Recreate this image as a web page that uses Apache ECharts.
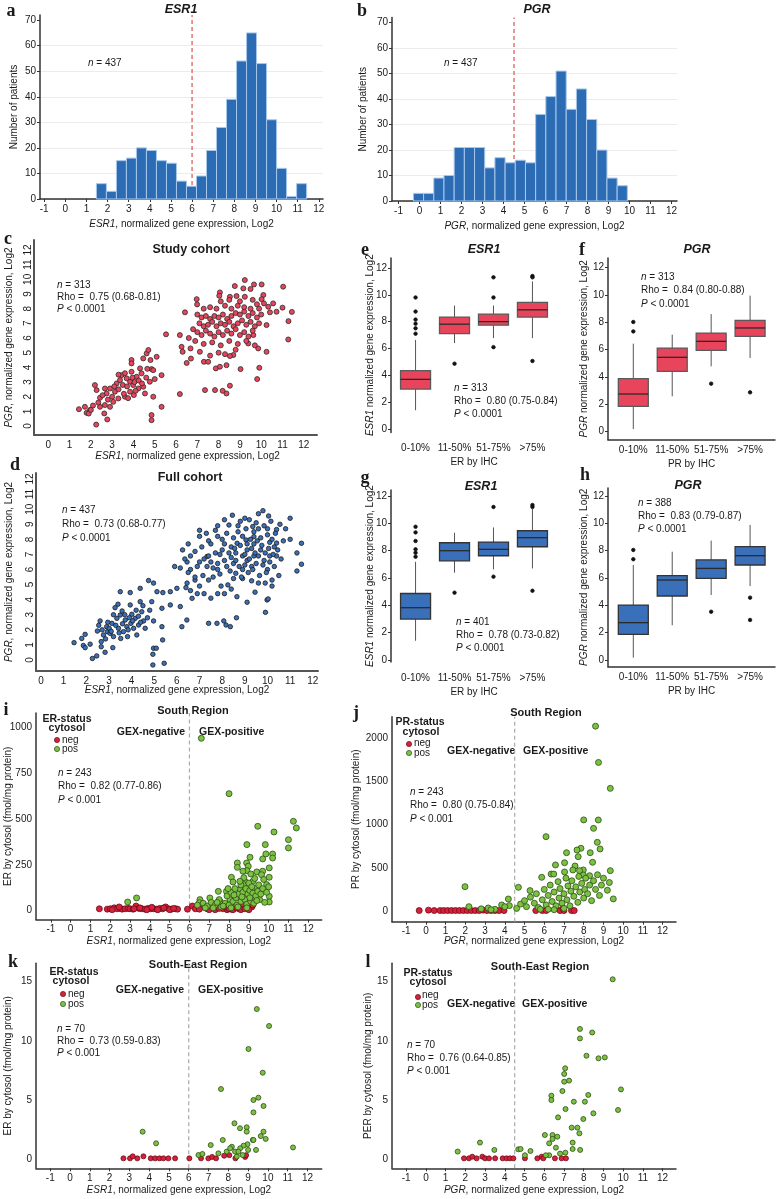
<!DOCTYPE html>
<html><head><meta charset="utf-8">
<script src="https://cdn.jsdelivr.net/npm/echarts@6/dist/echarts.min.js"></script>
<style>html,body{margin:0;padding:0;background:#fff}#c{width:777px;height:1199px}</style>
</head><body><div id="c"></div><script>
// ---------------- DATA ----------------
const xTicksFull = [-1,0,1,2,3,4,5,6,7,8,9,10,11,12];
const xTicks0 = [0,1,2,3,4,5,6,7,8,9,10,11,12];
const histYTicks = [0,10,20,30,40,50,60,70];
const scatterYTicks = [0,1,2,3,4,5,6,7,8,9,10,11,12];
const boxYTicks = [0,2,4,6,8,10,12];
const erCytTicks = [0,250,500,750,1000];
const prCytTicks = [0,500,1000,1500,2000];
const seTicks = [0,5,10,15];
const ihcCategories = ['0-10%','11-50%','51-75%','>75%'];
const esr1Cut = 6, pgrCut = 4.5;

const esr1HistStart = 1.47, esr1HistWidth = 0.474;
const esr1HistCounts = [6,3,15,16,20,19,15,14,7,5,9,19,28,39,54,65,53,31,12,1,6];
const pgrHistStart = -0.29, pgrHistWidth = 0.485;
const pgrHistCounts = [3,3,9,10,21,21,21,13,17,15,16,15,34,41,51,36,44,32,20,9,6];

const studyScatter = [
[11.03,9.5],[11.0,8.07],[11.44,7.78],[11.28,7.15],[11.27,5.9],[9.23,9.95],[8.76,9.54],[9.66,9.65],[10.02,9.65],[9.5,9.34],[9.16,9.38],[8.06,9.11],[8.03,8.88],[8.53,8.81],[8.84,8.86],[9.23,8.81],[10.1,8.93],[10.02,8.65],[10.13,8.36],[6.42,7.75],[6.97,8.65],[6.99,8.29],[6.18,6.2],[5.53,6.25],[6.26,5.4],[6.31,5.06],[6.68,5.29],[7.12,5.06],[7.31,4.38],[7.51,4.38],[7.87,3.93],[8.06,4.04],[8.37,4.15],[8.69,4.84],[8.53,4.77],[9.03,3.88],[9.81,3.2],[9.91,3.97],[7.36,2.45],[7.83,2.45],[8.19,2.4],[8.37,2.22],[8.53,2.75],[6.18,2.18],[9.86,5.29],[10.25,5.06],[9.39,5.63],[9.63,6.2],[10.25,6.88],[10.41,7.75],[10.72,7.79],[10.56,8.36],[10.33,8.13],
[7.0,7.6],[7.2,7.4],[7.4,7.5],[7.6,7.3],[7.8,7.5],[8.0,7.4],[8.2,7.6],[8.4,7.3],[8.6,7.5],[8.8,7.7],[9.0,7.6],[9.2,7.8],[9.4,7.5],[9.6,7.7],[9.8,7.4],[10.0,7.6],[7.1,7.0],[7.3,6.8],[7.5,6.9],[7.7,7.1],[7.9,6.8],[8.1,7.0],[8.3,6.9],[8.5,7.1],[8.7,6.8],[8.9,7.0],[9.1,7.2],[9.3,6.9],[9.5,7.1],[9.7,6.8],[9.9,7.0],[6.8,6.6],[7.0,6.4],[7.2,6.2],[7.4,6.5],[7.6,6.3],[7.8,6.1],[8.0,6.4],[8.2,6.2],[8.4,6.5],[8.6,6.3],[8.8,6.6],[9.0,6.2],[9.2,6.4],[9.4,6.1],[9.6,6.5],[6.6,6.0],[6.9,5.8],[7.3,5.6],[7.7,5.7],[8.1,5.5],[8.5,5.8],[8.9,5.6],[9.3,5.8],[9.7,5.5],[8.0,5.0],[8.3,4.9],[8.8,5.2],[7.6,4.8],[6.7,4.6],[6.5,4.3],[7.9,8.0],[8.3,8.2],[8.6,8.0],[8.9,8.2],[9.2,8.1],[9.5,8.0],[9.8,8.3],[7.6,8.1],[7.3,8.0],[8.1,8.5],[8.5,8.6],[9.0,8.5],[9.6,8.6],[9.9,8.0],
[2.43,1.93],[2.74,2.22],[2.9,2.56],[3.13,2.34],[3.21,2.9],[3.37,3.13],[3.44,3.47],[3.68,3.25],[3.84,3.02],[3.91,3.7],[3.99,2.79],[4.15,3.36],[4.31,3.93],[4.38,3.59],[4.46,4.61],[4.62,4.95],[4.7,5.18],[4.85,3.88],[4.93,3.81],[5.09,4.72],[5.32,3.47],[5.32,1.31],[4.23,2.56],[4.02,2.11],[3.84,2.34],[3.6,2.0],[3.29,1.88],[3.05,1.65],[2.9,1.31],[2.66,1.43],[2.43,1.31],[1.96,1.09],[1.72,1.31],[1.44,1.15],[3.91,4.5],[3.91,4.27],[4.54,2.22],[4.93,2.0],[4.46,2.68],[4.77,3.02],[2.66,2.56],[2.19,2.79],[2.27,2.45],[4.85,0.75],[4.85,0.4],[1.8,0.9],[1.9,0.85],[2.0,1.1],[2.25,0.1],[2.63,0.86],[2.77,0.45],
[2.55,2.1],[2.8,1.8],[3.0,2.0],[3.1,2.7],[3.3,2.5],[3.5,2.8],[3.55,2.2],[3.7,2.7],[3.75,1.9],[3.95,3.3],[4.05,3.0],[4.1,2.4],[4.25,3.1],[4.4,2.9],[4.6,3.3],[4.65,3.9],[4.8,4.5],[5.0,3.2],[3.3,3.5],[3.6,3.6],[2.35,1.6],[2.1,1.4]
];
const fullScatter = [
[11.0,9.4],[10.8,8.7],[11.0,8.0],[11.5,7.74],[11.3,7.1],[11.5,6.35],[11.3,5.9],[9.8,9.9],[9.6,9.7],[10.05,9.55],[7.0,8.6],[7.0,8.2],[6.5,7.7],[7.4,7.9],[8.3,8.95],[8.7,8.9],[9.0,9.4],[9.2,9.3],[9.35,8.85],[9.6,8.7],[10.0,8.7],[10.4,8.65],[10.4,7.75],[10.1,7.8],[10.3,7.5],[10.4,6.9],[10.1,6.9],[9.85,6.6],[10.0,6.0],[10.2,5.3],[10.2,4.9],[9.9,5.1],[9.6,5.1],[9.3,5.25],[8.9,5.4],[8.5,5.4],[8.25,4.98],[8.1,4.4],[7.8,4.4],[7.2,4.4],[6.9,4.4],[6.6,4.6],[6.45,5.1],[6.15,6.1],[6.6,6.0],[6.5,5.8],[6.8,5.3],[7.0,4.9],[7.4,5.3],[7.6,5.5],[7.8,6.0],[7.33,6.2],[7.0,6.5],[7.33,6.86],[7.7,7.1],[8.0,7.3],[8.4,7.5],[8.66,7.74],[9.05,7.96],[9.4,8.18],[7.8,8.2],[8.1,7.7],[8.6,7.1],[8.9,6.9],[9.1,6.6],[9.4,6.9],[9.7,7.3],[9.1,7.3],[9.4,7.7],[8.5,6.4],[8.2,6.2],[8.9,6.0],[9.3,6.2],[8.6,5.75],[7.8,6.4],[7.5,6.5],[6.45,6.5],
[6.6,6.9],[6.8,7.2],[6.9,6.2],[7.1,7.5],[7.2,6.7],[7.3,8.4],[7.5,7.7],[7.6,6.1],[7.7,8.6],[7.9,7.0],[7.9,5.7],[8.0,8.0],[8.1,6.6],[8.2,8.4],[8.3,7.1],[8.35,5.9],[8.4,6.8],[8.5,8.1],[8.55,7.4],[8.6,6.6],[8.7,8.5],[8.75,6.2],[8.8,7.6],[8.85,5.5],[8.9,8.2],[9.0,7.0],[9.0,6.3],[9.05,8.7],[9.1,7.7],[9.15,5.8],[9.2,6.7],[9.25,8.0],[9.3,7.4],[9.35,6.0],[9.4,8.5],[9.45,7.1],[9.5,6.4],[9.5,9.1],[9.55,7.9],[9.6,6.9],[9.65,5.6],[9.7,8.1],[9.75,7.6],[9.8,6.3],[9.85,8.9],[9.9,7.1],[9.95,5.8],[10.0,8.3],[10.05,7.4],[10.1,6.5],[10.15,9.2],[10.2,8.0],[10.25,7.0],[10.3,6.2],[10.35,8.4],[10.45,7.3],[10.5,5.6],[10.55,9.0],[10.6,6.7],[10.7,7.9],[8.1,9.3],[8.45,9.6],[8.8,9.2],[7.8,8.9],[7.4,6.9],[7.15,5.6],[6.8,5.5],[6.35,6.7],[6.25,7.3],[5.9,6.2],[7.95,4.9],[8.4,4.7],[9.45,4.5],[8.65,4.2],[7.5,4.1],
[1.46,1.15],[1.8,1.43],[1.95,1.7],[1.87,0.96],[1.95,0.82],[2.17,1.05],[2.27,0.1],[2.46,0.27],[2.49,1.92],[2.61,2.59],[2.66,1.22],[2.66,0.88],[2.76,1.66],[2.83,0.51],[2.9,2.21],[2.93,1.88],[3.01,2.1],[3.05,1.77],[3.13,2.43],[3.17,0.82],[3.2,1.55],[3.27,3.47],[3.35,2.76],[3.42,2.1],[3.5,2.98],[3.52,1.43],[3.58,3.25],[3.64,1.88],[3.72,2.65],[3.79,2.21],[3.82,1.55],[3.94,3.65],[3.97,2.43],[4.01,3.03],[4.09,2.1],[4.16,2.76],[4.23,1.66],[4.31,2.32],[4.38,3.87],[4.45,3.2],[4.53,2.59],[4.6,2.1],[4.89,3.87],[4.97,2.59],[4.97,0.78],[5.09,0.78],[4.94,0.38],[4.94,-0.33],[5.44,-0.22],[5.34,2.21],[5.37,1.33],[5.34,3.43],[5.71,3.65],[6.15,3.54],[6.22,2.21],[6.44,2.65],[7.4,2.43],[7.77,2.43],[8.07,2.59],[8.17,2.32],[8.36,2.21],[8.63,2.8],[9.1,3.83],[9.91,3.16],[9.98,3.98],[10.03,4.05],[6.67,4.09],
[3.5,4.53],[3.94,4.47],[4.38,4.75],[4.75,5.27],[4.97,5.1],[5.12,4.53],[5.38,4.47],[5.71,4.53],[6.0,4.75],[6.4,4.8],
[2.7,2.0],[2.85,1.4],[3.1,1.9],[3.3,2.3],[3.45,1.8],[3.6,2.4],[3.7,3.0],[3.85,2.0],[3.9,2.8],[4.05,2.6],[4.2,3.3],[4.3,2.9],[4.4,2.5],[4.5,3.6],[4.7,2.8],[4.8,3.3],[3.2,3.0],[3.4,3.7],[2.55,2.3],[2.95,2.5]
];

// boxplots: [min, q1, median, q3, max]
const boxStudyESR1 = [[1.4,2.98,3.7,4.35,6.64],[6.4,7.11,7.81,8.34,9.2],[6.77,7.74,8.0,8.56,9.2],[6.77,8.34,8.88,9.43,11.0]];
const outStudyESR1 = [[1,9.8],[1,8.75],[1,8.15],[1,7.85],[1,7.5],[1,7.1],[2,4.87],[3,11.3],[3,9.8],[3,6.1],[4,11.4],[4,11.3],[4,5.07]];
const boxStudyPGR = [[0.17,1.83,2.74,3.86,6.43],[2.57,4.4,5.43,6.11,7.09],[4.77,5.94,6.6,7.21,8.6],[5.38,6.96,7.58,8.14,9.95]];
const outStudyPGR = [[1,8.02],[1,7.33],[3,3.5],[4,2.86]];
const boxFullESR1 = [[1.41,3.0,3.83,4.87,7.19],[6.39,7.26,8.0,8.58,9.31],[6.63,7.63,8.1,8.63,9.7],[6.7,8.29,8.95,9.46,11.05]];
const outFullESR1 = [[1,9.75],[1,9.34],[1,8.71],[1,8.1],[1,7.85],[1,7.56],[2,4.93],[3,11.2],[3,6.1],[4,11.34],[4,11.2],[4,5.07]];
const boxFullPGR = [[0.17,1.88,2.73,4.02,6.95],[2.54,4.68,5.85,6.17,7.92],[4.75,5.97,6.7,7.32,8.73],[5.41,6.95,7.63,8.29,9.88]];
const outFullPGR = [[1,8.05],[1,7.37],[3,3.53],[4,4.56],[4,2.93]];

// South region ER (panel i)
const southErPos = [[8.0,638],[6.6,940],[11.25,487],[11.4,451],[9.45,460],[10.27,429],[11.0,387],[11.0,342],[8.9,360],[9.83,360],[9.86,309],[10.2,309],[10.2,287],[9.06,291],[8.89,260],[8.42,260],[8.42,236],[8.97,242],[9.7,282],[9.4,211],[8.9,218],[10.03,233],[10.03,182],[9.7,215],[8.12,182],[8.2,156],[8.8,160],[9.2,160],[9.64,196],[9.9,142],[7.46,105],[7.87,105],[7.03,69],[6.53,60],[6.5,43],[10.03,78],[10.03,47],[9.2,69],[8.55,114],[8.72,142],[9.4,124],[8.55,69],[8.05,60],[7.54,51],[2.88,47],[3.33,69],
[6.4,30],[6.7,40],[6.9,25],[7.1,45],[7.3,30],[7.5,60],[7.6,20],[7.8,40],[7.9,80],[8.0,30],[8.1,100],[8.2,50],[8.3,120],[8.35,70],[8.4,30],[8.5,90],[8.6,140],[8.6,50],[8.7,100],[8.75,180],[8.8,60],[8.85,120],[8.9,35],[8.95,90],[9.0,150],[9.05,110],[9.1,50],[9.15,130],[9.2,95],[9.25,40],[9.3,175],[9.35,80],[9.45,105],[9.5,140],[9.55,60],[9.6,90],[9.7,120],[9.75,170],[9.8,45],[9.9,100],[10.0,130],[7.2,15],[7.7,25],[8.1,15],[8.45,20],[8.9,15],[6.8,15],[7.4,45],[8.25,85],[8.65,75],[9.05,70],[9.4,55],[7.95,120],[8.55,160],[9.1,200],[8.7,215]];
const southErNeg = [[1.45,10],[1.85,8],[2.0,10],[2.2,15],[2.35,10],[2.5,12],[2.6,8],[2.75,10],[2.9,12],[3.0,10],[3.15,8],[3.3,25],[3.45,12],[3.6,10],[3.75,8],[3.9,12],[4.05,10],[4.2,10],[4.35,8],[4.5,12],[4.65,10],[4.8,20],[4.95,10],[5.1,8],[5.3,10],[5.4,8],[5.9,8],[6.15,25],[6.7,20],[6.9,10],[7.1,15],[7.3,5],[7.7,10],[7.9,5],[8.1,8],[8.3,20],[8.5,10],[8.7,25],[9.15,20],[9.2,30],
[6.3,10],[6.5,8],[7.0,5],[7.5,12],[7.8,20],[8.0,10],[8.2,5],[8.4,15],[8.6,5],[8.8,10],[9.0,5],[2.1,5],[2.45,20],[3.2,10],[3.5,15],[3.85,5],[4.1,18],[4.4,5],[4.7,15],[5.0,5],[5.2,12]];
// South region PR (panel j)
const southPrPos = [[8.6,2140],[8.75,1720],[9.35,1420],[8.0,1055],[8.74,1054],[8.5,957],[6.09,861],[8.69,795],[8.83,718],[7.86,726],[7.66,706],[7.13,675],[8.33,675],[7.72,629],[8.45,564],[7.03,559],[6.57,533],[7.56,521],[7.98,475],[9.35,467],[7.45,475],[7.79,467],[6.35,428],[6.48,428],[7.03,452],[7.98,417],[8.3,409],[1.98,282],[2.18,50],[3.16,35],[3.84,70],[4.18,139],[4.23,62],[4.69,274],[5.28,236],[5.87,390],
[4.6,30],[4.8,80],[5.0,120],[5.1,50],[5.3,160],[5.5,90],[5.6,200],[5.7,40],[5.9,130],[6.0,250],[6.1,70],[6.2,180],[6.3,300],[6.4,110],[6.5,220],[6.6,60],[6.7,340],[6.75,150],[6.8,260],[6.9,90],[7.0,200],[7.1,380],[7.15,130],[7.2,290],[7.3,60],[7.35,230],[7.4,350],[7.5,170],[7.6,280],[7.7,100],[7.75,400],[7.8,220],[7.9,320],[8.0,150],[8.05,250],[8.1,380],[8.2,200],[8.3,300],[8.4,120],[8.5,350],[8.6,250],[8.7,420],[8.8,180],[8.9,300],[9.0,380],[9.2,240],[9.3,330],[9.5,140],[5.8,20],[6.5,15],[7.0,30],[6.2,20],[3.5,20],[2.8,25],[3.3,15],[4.0,50]];
const southPrNeg = [[-0.34,5],[0.13,10],[0.42,5],[0.72,5],[0.9,5],[1.1,5],[1.3,5],[1.5,5],[1.7,5],[1.9,5],[2.1,5],[2.3,5],[2.5,5],[2.7,5],[2.9,10],[3.1,5],[3.3,5],[3.5,5],[3.71,5],[3.96,5],[5.57,5],[6.8,5],[7.38,5],[7.52,5],[5.9,5],[6.1,5],[7.0,5],[6.95,30]];
// South-East region ER (panel k)
const seErPos = [[9.44,12.68],[10.06,11.25],[9.02,9.31],[9.74,7.31],[7.63,5.93],[9.52,5.2],[9.27,5.0],[9.78,4.5],[9.27,3.96],[3.67,2.33],[4.35,1.35],[8.31,3.04],[8.59,2.62],[8.93,2.7],[8.93,2.33],[9.78,2.33],[9.64,1.96],[9.89,1.72],[9.24,1.63],[7.72,1.63],[7.11,1.2],[8.18,1.06],[8.97,1.27],[9.27,1.63],[8.77,1.15],[8.6,0.93],[9.4,0.79],[11.27,1.0],[6.49,0.36],[6.69,0.45],[7.5,0.5],[7.92,0.65],[8.09,0.93],[8.34,0.65],[8.43,0.23],[8.51,0.65],[8.72,0.36],[9.0,0.79]];
const seErNeg = [[2.7,0.08],[3.03,0.08],[3.17,0.25],[3.4,0.08],[3.71,0.25],[4.08,0.08],[4.3,0.08],[4.52,0.08],[4.72,0.08],[4.97,0.08],[5.31,0.08],[6.03,0.08],[6.62,0.08],[6.99,0.08],[7.18,0.2],[7.38,0.08],[7.79,0.3],[8.05,0.35],[8.36,0.08],[8.85,0.2],[8.9,0.35]];
// South-East region PR (panel l)
const sePrPos = [[9.47,15.19],[7.81,11.0],[8.43,10.7],[7.81,10.2],[8.14,8.74],[8.75,8.52],[9.07,8.6],[7.06,7.68],[7.01,7.2],[7.26,6.64],[7.01,6.55],[6.92,5.76],[8.23,5.43],[9.89,5.9],[6.36,5.37],[6.36,5.0],[7.5,4.86],[8.06,4.86],[7.08,4.24],[8.49,3.88],[9.74,4.16],[6.7,3.54],[7.98,3.4],[7.39,2.67],[7.68,2.67],[7.78,2.19],[6.03,2.05],[6.42,2.05],[6.42,1.72],[6.66,1.91],[6.25,1.35],[7.44,1.41],[6.59,0.98],[7.44,0.87],[7.82,0.79],[7.07,0.56],[6.8,0.48],[6.25,0.34],[6.08,0.34],[4.68,0.84],[4.8,0.87],[5.3,0.7],[5.02,0.34],[2.74,1.41],[3.47,0.79],[1.61,0.65]];
const sePrNeg = [[1.93,0.08],[2.18,0.08],[2.35,0.22],[2.57,0.08],[2.86,0.22],[3.0,0.08],[3.2,0.08],[3.51,0.08],[3.89,0.08],[4.09,0.08],[4.26,0.08],[4.43,0.08],[5.02,0.08],[5.65,0.08],[5.87,0.22],[5.95,0.08],[6.54,0.08],[6.88,0.08],[7.1,0.08]];

// ---------------- STYLE ----------------
const F = "'Liberation Sans', Arial, Helvetica, sans-serif";
const SERIF = "'Liberation Serif', 'Times New Roman', serif";
const TXT = '#1a1a1a';
const AX = '#333';
const RED = '#e8455c', BLUE = '#3a70b9';
const NEG = '#d8203a', POS = '#7cc242';
const plain = v => String(v);

const grids = [
  [40, 15, 283, 184],     // a
  [392, 17.6, 285, 183.4],// b
  [34, 240, 283, 195],    // c
  [36, 473, 282, 198],    // d
  [391, 258, 166, 174.4], // e
  [608, 258, 167, 181.7], // f
  [391, 490, 166, 172.1], // g
  [608, 488, 167, 178.7], // h
  [36, 713, 285.7, 206.6],// i
  [392, 716.7, 284, 205], // j
  [36, 963.3, 285.7, 205],// k
  [392, 963.3, 284, 205]  // l
];

const rich = (fs) => ({i:{fontStyle:'italic', fontSize:fs, fontFamily:F, color:TXT}});

function xAx(gi, min, max, ticks, name, gap, o={}) {
  return Object.assign({
    gridIndex: gi, type: 'value', min, max,
    axisLine: {show: true, onZero: false, lineStyle: {color: AX, width: 1.5}},
    axisTick: {show: true, customValues: ticks, length: 3, lineStyle: {color: AX}},
    axisLabel: {customValues: ticks, formatter: plain, fontSize: 10, fontFamily: F, color: TXT, margin: 5},
    splitLine: {show: false},
    name, nameLocation: 'middle', nameGap: gap, nameMoveOverlap: false,
    nameTextStyle: {fontSize: 10, fontFamily: F, color: TXT, rich: rich(10)}
  }, o);
}
function yAx(gi, min, max, ticks, name, gap, o={}) {
  return Object.assign({
    gridIndex: gi, type: 'value', min, max,
    axisLine: {show: true, onZero: false, lineStyle: {color: AX, width: 1.5}},
    axisTick: {show: true, customValues: ticks, length: 3, lineStyle: {color: AX}},
    axisLabel: {customValues: ticks, formatter: plain, fontSize: 10, fontFamily: F, color: TXT, margin: 4},
    splitLine: {show: false},
    name, nameLocation: 'middle', nameGap: gap, nameMoveOverlap: false,
    nameTextStyle: {fontSize: 10, fontFamily: F, color: TXT, rich: rich(10)}
  }, o);
}

const catFmt = v => ihcCategories[Math.round(v) - 1] || '';
const catLabel = (m) => ({customValues:[1,2,3,4], formatter: catFmt, fontSize:10, fontFamily:F, color:TXT, margin:m});
const thickAx = {show:true, onZero:false, lineStyle:{color:'#555', width:2}};

const xAxes = [
  xAx(0, -1.2, 12.2, xTicksFull, '{i|ESR1}, normalized gene expression, Log2', 20),
  xAx(1, -1.31, 12.26, xTicksFull, '{i|PGR}, normalized gene expression, Log2', 20),
  xAx(2, -0.67, 12.62, xTicks0, '{i|ESR1}, normalized gene expression, Log2', 16, {axisTick:{show:false}, axisLine: thickAx, nameTextStyle:{fontSize:10,fontFamily:F,color:TXT,rich:rich(10),padding:[0,0,0,24]}}),
  xAx(3, -0.22, 12.23, xTicks0, '{i|ESR1}, normalized gene expression, Log2', 14, {axisTick:{show:false}, axisLine: thickAx}),
  xAx(4, 0.37, 4.63, [1,2,3,4], 'ER by IHC', 25, {axisLine:{show:false}, axisTick:{show:false}, axisLabel: catLabel(11)}),
  xAx(5, 0.35, 4.64, [1,2,3,4], 'PR by IHC', 20, {axisTick:{show:false}, axisLabel: catLabel(6)}),
  xAx(6, 0.37, 4.63, [1,2,3,4], 'ER by IHC', 25, {axisLine:{show:false}, axisTick:{show:false}, axisLabel: catLabel(11)}),
  xAx(7, 0.35, 4.64, [1,2,3,4], 'PR by IHC', 20, {axisTick:{show:false}, axisLabel: catLabel(6)}),
  xAx(8, -1.75, 12.68, xTicksFull, '{i|ESR1}, normalized gene expression, Log2', 17),
  xAx(9, -1.72, 12.68, xTicksFull, '{i|PGR}, normalized gene expression, Log2', 15),
  xAx(10, -1.72, 12.72, xTicksFull, '{i|ESR1}, normalized gene expression, Log2', 17),
  xAx(11, -1.72, 12.68, xTicksFull, '{i|PGR}, normalized gene expression, Log2', 17)
];

const rotLabel = {customValues: scatterYTicks, formatter: plain, rotate: 90, fontSize: 10, fontFamily: F, color: TXT, margin: 1};
const yAxes = [
  yAx(0, 0, 72, histYTicks, 'Number of patients', 21, {interval: 10, splitLine: {show: true, showMaxLine: false, lineStyle: {color: '#ececec'}}}),
  yAx(1, 0, 72, histYTicks, 'Number of patients', 24, {interval: 10, splitLine: {show: true, showMaxLine: false, lineStyle: {color: '#ececec'}}}),
  yAx(2, -0.61, 12.68, scatterYTicks, '{i|PGR}, normalized gene expression, Log2', 20, {axisTick:{show:false}, axisLine: thickAx, axisLabel: rotLabel}),
  yAx(3, -0.73, 12.4, scatterYTicks, '{i|PGR}, normalized gene expression, Log2', 22, {axisTick:{show:false}, axisLine: thickAx, axisLabel: rotLabel}),
  yAx(4, -0.25, 12.74, boxYTicks, '{i|ESR1} normalized gene expression, Log2', 16),
  yAx(5, -0.61, 12.71, boxYTicks, '{i|PGR} normalized gene expression, Log2', 19),
  yAx(6, -0.15, 12.44, boxYTicks, '{i|ESR1} normalized gene expression, Log2', 16),
  yAx(7, -0.49, 12.58, boxYTicks, '{i|PGR} normalized gene expression, Log2', 19),
  yAx(8, -49, 1078, erCytTicks, 'ER by cytosol (fmol/mg protein)', 23, {axisTick:{show:false}}),
  yAx(9, -124, 2250, prCytTicks, 'PR by cytosol (fmol/mg protein)', 31, {axisTick:{show:false}}),
  yAx(10, -0.76, 16.54, seTicks, 'ER by cytosol (fmol/mg protein)', 23, {axisTick:{show:false}}),
  yAx(11, -0.76, 16.54, seTicks, 'PER by cytosol (fmol/mg protein)', 19, {axisTick:{show:false}})
];

function histSeries(gi, start, width, counts) {
  return {
    type: 'custom', xAxisIndex: gi, yAxisIndex: gi, silent: true,
    data: counts.map((c, i) => [start + i * width, start + (i + 1) * width, c]),
    encode: {x: [0, 1], y: 2},
    renderItem(params, api) {
      const p0 = api.coord([api.value(0), api.value(2)]);
      const p1 = api.coord([api.value(1), 0]);
      return {type: 'rect', shape: {x: p0[0], y: p0[1], width: p1[0] - p0[0], height: p1[1] - p0[1]},
        style: {fill: '#2c6cb4', stroke: '#a6c8ec', lineWidth: 1}};
    }
  };
}
function boxSeries(gi, boxes, fill, border) {
  return {
    type: 'custom', xAxisIndex: gi, yAxisIndex: gi, silent: true,
    data: boxes.map((b, i) => [i + 1].concat(b)),
    encode: {x: 0, y: [1, 2, 3, 4, 5]},
    renderItem(params, api) {
      const x = api.value(0);
      const w = api.size([0.77, 0])[0];
      const c = k => api.coord([x, api.value(k)]);
      const pMin = c(1), pQ1 = c(2), pMed = c(3), pQ3 = c(4), pMax = c(5);
      const ls = {stroke: '#555', lineWidth: 1};
      return {type: 'group', children: [
        {type: 'line', shape: {x1: pMin[0], y1: pMin[1], x2: pQ1[0], y2: pQ1[1]}, style: ls},
        {type: 'line', shape: {x1: pQ3[0], y1: pQ3[1], x2: pMax[0], y2: pMax[1]}, style: ls},
        {type: 'rect', shape: {x: pQ3[0] - w / 2, y: pQ3[1], width: w, height: pQ1[1] - pQ3[1]}, style: {fill, stroke: border, lineWidth: 1.3}},
        {type: 'line', shape: {x1: pMed[0] - w / 2, y1: pMed[1], x2: pMed[0] + w / 2, y2: pMed[1]}, style: {stroke: '#2a2a2a', lineWidth: 1.3}}
      ]};
    }
  };
}
function scat(gi, data, color, size, border, name) {
  return {type: 'scatter', name, xAxisIndex: gi, yAxisIndex: gi, data, symbolSize: size, silent: true,
    itemStyle: {color, borderColor: border, borderWidth: 0.8, opacity: 1}};
}
function vline(gi, x, y0, y1, color) {
  return {type: 'line', xAxisIndex: gi, yAxisIndex: gi, data: [[x, y0], [x, y1]], symbol: 'none', silent: true,
    lineStyle: {type: [4, 3], color, width: 1.2}, z: 1};
}

const series = [
  histSeries(0, esr1HistStart, esr1HistWidth, esr1HistCounts),
  histSeries(1, pgrHistStart, pgrHistWidth, pgrHistCounts),
  vline(0, esr1Cut, 0, 72, '#d9534f'),
  vline(1, pgrCut, 0, 72, '#d9534f'),
  scat(2, studyScatter, RED, 5, '#2b2b2b'),
  scat(3, fullScatter, BLUE, 4.5, '#1b1b1b'),
  boxSeries(4, boxStudyESR1, RED, '#5a5a5a'),
  boxSeries(5, boxStudyPGR, RED, '#5a5a5a'),
  boxSeries(6, boxFullESR1, BLUE, '#333'),
  boxSeries(7, boxFullPGR, BLUE, '#333'),
  scat(4, outStudyESR1, '#111', 3.5, '#111'),
  scat(5, outStudyPGR, '#111', 3.5, '#111'),
  scat(6, outFullESR1, '#111', 3.5, '#111'),
  scat(7, outFullPGR, '#111', 3.5, '#111'),
  vline(8, esr1Cut, -49, 1078, '#aaa'),
  vline(9, pgrCut, -124, 2250, '#aaa'),
  vline(10, esr1Cut, -0.76, 16.54, '#aaa'),
  vline(11, pgrCut, -0.76, 16.54, '#aaa'),
  scat(8, southErNeg, NEG, 6, '#6a0d1a', 'neg'),
  scat(8, southErPos, POS, 6, '#2e4d17', 'pos'),
  scat(9, southPrNeg, NEG, 6, '#6a0d1a', 'neg'),
  scat(9, southPrPos, POS, 6, '#2e4d17', 'pos'),
  scat(10, seErNeg, NEG, 5, '#6a0d1a', 'neg'),
  scat(10, seErPos, POS, 5, '#2e4d17', 'pos'),
  scat(11, sePrNeg, NEG, 5, '#6a0d1a', 'neg'),
  scat(11, sePrPos, POS, 5, '#2e4d17', 'pos')
];

// ---------------- TEXT ----------------
function T(x, y, text, o = {}) {
  const fs = o.fontSize || 10;
  const st = Object.assign({text, fontSize: fs, fontFamily: F, fill: TXT, fontWeight: 'normal'}, o);
  const al = o.align || 'left';
  st.align = al; st.textAlign = al; st.verticalAlign = 'middle'; st.textVerticalAlign = 'middle';
  st.rich = {i: {fontStyle: 'italic', fontSize: fs, fontFamily: st.fontFamily, fill: st.fill, color: st.fill, fontWeight: st.fontWeight}};
  return {type: 'text', x, y, silent: true, style: st};
}
const L = (x, y, s) => T(x, y, s, {fontFamily: SERIF, fontWeight: 'bold', fontSize: 18, align: 'center'});
const TT = (x, y, s, it) => T(x, y, s, {fontWeight: 'bold', fontSize: 12.5, fontStyle: it ? 'italic' : 'normal', align: 'center'});
const stats = (x, y, lines, gap) => lines.map((s, k) => T(x, y + k * gap, s));
const dot = (cx, cy, fill, stroke) => ({type: 'circle', silent: true, shape: {cx, cy, r: 2.6}, style: {fill, stroke, lineWidth: 0.7}});
const B = (x, y, s, al) => T(x, y, s, {fontWeight: 'bold', fontSize: 10.5, align: al || 'left'});

const graphics = [
  L(11, 11, 'a'), L(362, 11, 'b'), L(8, 239, 'c'), L(15, 465, 'd'), L(365, 250, 'e'), L(582, 250, 'f'),
  L(365, 478, 'g'), L(585, 475, 'h'), L(6, 710, 'i'), L(356, 713, 'j'), L(13, 962, 'k'), L(368, 962, 'l'),
  TT(181, 10, 'ESR1', true), TT(537, 10, 'PGR', true),
  TT(191, 250, 'Study cohort'), TT(190, 478, 'Full cohort'),
  TT(484, 250, 'ESR1', true), TT(697, 250, 'PGR', true), TT(481, 487, 'ESR1', true), TT(688, 486, 'PGR', true),
  T(193, 711, 'South Region', {fontWeight: 'bold', fontSize: 11, align: 'center'}),
  T(546, 713, 'South Region', {fontWeight: 'bold', fontSize: 11, align: 'center'}),
  T(198, 965, 'South-East Region', {fontWeight: 'bold', fontSize: 11, align: 'center'}),
  T(540, 967, 'South-East Region', {fontWeight: 'bold', fontSize: 11, align: 'center'}),
  T(88, 63, '{i|n} = 437'), T(444, 63, '{i|n} = 437'),
  ...stats(57, 285, ['{i|n} = 313', 'Rho =  0.75 (0.68-0.81)', '{i|P} < 0.0001'], 12),
  ...stats(62, 510, ['{i|n} = 437', 'Rho =  0.73 (0.68-0.77)', '{i|P} < 0.0001'], 14),
  ...stats(454, 388, ['{i|n} = 313', 'Rho =  0.80 (0.75-0.84)', '{i|P} < 0.0001'], 13),
  ...stats(641, 277, ['{i|n} = 313', 'Rho =  0.84 (0.80-0.88)', '{i|P} < 0.0001'], 13.5),
  ...stats(456, 622, ['{i|n} = 401', 'Rho =  0.78 (0.73-0.82)', '{i|P} < 0.0001'], 13),
  ...stats(638, 503, ['{i|n} = 388', 'Rho =  0.83 (0.79-0.87)', '{i|P} < 0.0001'], 13),
  ...stats(58, 773, ['{i|n} = 243', 'Rho =  0.82 (0.77-0.86)', '{i|P} < 0.001'], 13.5),
  ...stats(410, 792, ['{i|n} = 243', 'Rho =  0.80 (0.75-0.84)', '{i|P} < 0.001'], 13.5),
  ...stats(57, 1029, ['{i|n} = 70', 'Rho =  0.73 (0.59-0.83)', '{i|P} < 0.001'], 12.2),
  ...stats(407, 1045, ['{i|n} = 70', 'Rho =  0.76 (0.64-0.85)', '{i|P} < 0.001'], 13.3),
  // legends
  B(67, 719, 'ER-status', 'center'), B(67, 728, 'cytosol', 'center'),
  dot(57, 740, NEG, '#6a0d1a'), T(62, 740, 'neg'), dot(57, 749, POS, '#2e4d17'), T(62, 749, 'pos'),
  B(420, 722, 'PR-status', 'center'), B(421, 732, 'cytosol', 'center'),
  dot(409, 744, NEG, '#6a0d1a'), T(414, 743, 'neg'), dot(409, 753, POS, '#2e4d17'), T(414, 753, 'pos'),
  B(74, 972, 'ER-status', 'center'), B(71, 981, 'cytosol', 'center'),
  dot(63, 994, NEG, '#6a0d1a'), T(68, 994, 'neg'), dot(63, 1004, POS, '#2e4d17'), T(68, 1004, 'pos'),
  B(428, 973, 'PR-status', 'center'), B(428, 982, 'cytosol', 'center'),
  dot(418, 997, NEG, '#6a0d1a'), T(422, 995, 'neg'), dot(418, 1005, POS, '#2e4d17'), T(422, 1005, 'pos'),
  B(185, 732, 'GEX-negative', 'right'), B(199, 732, 'GEX-positive'),
  B(447, 751, 'GEX-negative'), B(523, 751, 'GEX-positive'),
  B(184, 990, 'GEX-negative', 'right'), B(198, 990, 'GEX-positive'),
  B(447, 1004, 'GEX-negative'), B(522, 1004, 'GEX-positive')
];

const chart = echarts.init(document.getElementById('c'), null, {renderer: 'canvas', width: 777, height: 1199});
chart.setOption({
  animation: false,
  backgroundColor: '#fff',
  grid: grids.map(g => ({left: g[0], top: g[1], width: g[2], height: g[3], containLabel: false, outerBoundsMode: 'none'})),
  xAxis: xAxes,
  yAxis: yAxes,
  series,
  graphic: graphics
});
</script></body></html>
